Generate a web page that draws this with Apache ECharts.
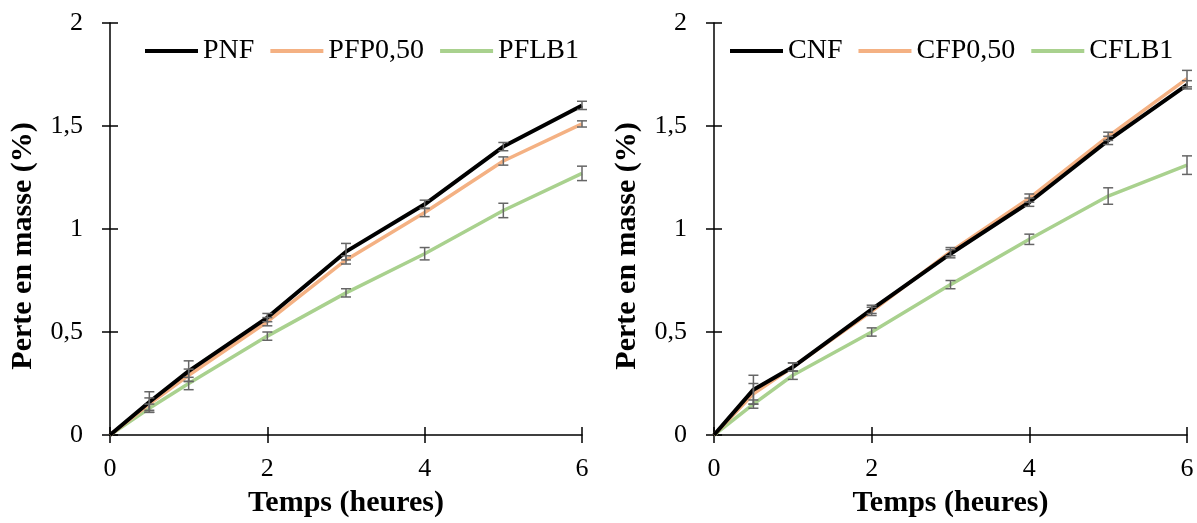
<!DOCTYPE html>
<html><head><meta charset="utf-8">
<script src="https://cdn.jsdelivr.net/npm/echarts@6/dist/echarts.min.js"></script>
<style>html,body{margin:0;padding:0;background:#fff}#c{width:1197px;height:523px}</style>
</head><body><div id="c"></div>
<script>
const times = [0, 0.5, 1, 2, 3, 4, 5, 6];
const xTicks = [0, 2, 4, 6];
const yTicks = ['0', '0,5', '1', '1,5', '2'];

const leftNames = ['PNF', 'PFP0,50', 'PFLB1'];
const pnf   = [0, 0.16, 0.31, 0.57, 0.89, 1.12, 1.40, 1.60];
const pfp   = [0, 0.15, 0.29, 0.55, 0.85, 1.08, 1.33, 1.51];
const pflb  = [0, 0.13, 0.25, 0.48, 0.69, 0.88, 1.09, 1.27];
const pnfErr  = [0, 0.05, 0.05, 0.02, 0.04, 0.02, 0.02, 0.02];
const pfpErr  = [0, 0.03, 0.03, 0.02, 0.02, 0.02, 0.02, 0.015];
const pflbErr = [0, 0.02, 0.03, 0.02, 0.02, 0.03, 0.035, 0.035];

const rightNames = ['CNF', 'CFP0,50', 'CFLB1'];
const cnf   = [0, 0.22, 0.33, 0.61, 0.88, 1.13, 1.43, 1.70];
const cfp   = [0, 0.20, 0.33, 0.60, 0.89, 1.15, 1.45, 1.73];
const cflb  = [0, 0.15, 0.29, 0.50, 0.73, 0.95, 1.16, 1.31];
const cnfErr  = [0, 0.07, 0.02, 0.02, 0.02, 0.02, 0.02, 0.02];
const cfpErr  = [0, 0.05, 0.02, 0.02, 0.02, 0.02, 0.02, 0.04];
const cflbErr = [0, 0.02, 0.02, 0.02, 0.02, 0.025, 0.04, 0.045];

const colors = ['#000000', '#F4B183', '#A9D18E'];
const widths = [4, 3.5, 3.5];
const FONT = 'Liberation Serif';

function errRender(params, api) {
  const x = api.value(0), lo = api.value(1), hi = api.value(2);
  const p1 = api.coord([x, hi]), p2 = api.coord([x, lo]);
  const w = 5;
  const style = { stroke: '#666666', lineWidth: 1.5 };
  return { type: 'group', children: [
    { type: 'line', shape: { x1: p1[0], y1: p1[1], x2: p2[0], y2: p2[1] }, style },
    { type: 'line', shape: { x1: p1[0] - w, y1: p1[1], x2: p1[0] + w, y2: p1[1] }, style },
    { type: 'line', shape: { x1: p2[0] - w, y1: p2[1], x2: p2[0] + w, y2: p2[1] }, style }
  ]};
}

function xAx(gi, main) {
  return {
    type: 'value', gridIndex: gi, min: 0, max: 6, interval: 2, position: 'bottom',
    name: main ? 'Temps (heures)' : '', nameLocation: 'middle', nameGap: 53,
    nameTextStyle: { fontFamily: FONT, fontSize: 30, fontWeight: 'bold', color: '#000' },
    axisLine: { show: main, onZero: false, lineStyle: { color: '#000', width: 1.5 } },
    axisTick: { show: true, inside: !main, length: 8, lineStyle: { color: '#000', width: 1.5 } },
    axisLabel: { show: main, margin: 21, fontFamily: FONT, fontSize: 26, color: '#000',
      formatter: v => xTicks.includes(v) ? String(v) : '' },
    splitLine: { show: false }
  };
}
function yAx(gi, main) {
  return {
    type: 'value', gridIndex: gi, min: 0, max: 2, interval: 0.5, position: 'left',
    name: main ? 'Perte en masse (%)' : '', nameLocation: 'middle', nameGap: 72,
    nameTextStyle: { fontFamily: FONT, fontSize: 30, fontWeight: 'bold', color: '#000',
      padding: [0, 34, 0, 0] },
    axisLine: { show: main, onZero: false, lineStyle: { color: '#000', width: 1.5 } },
    axisTick: { show: true, inside: !main, length: 8, lineStyle: { color: '#000', width: 1.5 } },
    axisLabel: { show: main, margin: 27, fontFamily: FONT, fontSize: 26, color: '#000',
      formatter: v => yTicks[Math.round(v * 2)] },
    splitLine: { show: false }
  };
}

function makeSeries(names, vals, errs, xi, yi) {
  const out = [];
  names.forEach((n, i) => {
    out.push({
      name: n, type: 'line', xAxisIndex: xi, yAxisIndex: yi,
      data: times.map((t, k) => [t, vals[i][k]]),
      showSymbol: false, symbol: 'none', smooth: false,
      lineStyle: { color: colors[i], width: widths[i] }, itemStyle: { color: colors[i] },
      z: 3 - i + 2
    });
  });
  names.forEach((n, i) => {
    out.push({
      type: 'custom', xAxisIndex: xi, yAxisIndex: yi, z: 10,
      renderItem: errRender,
      data: times.map((t, k) => [t, vals[i][k] - errs[i][k], vals[i][k] + errs[i][k]])
                 .filter((d, k) => errs[i][k] > 0)
    });
  });
  return out;
}

function legend(names, left) {
  return {
    data: names.map(n => ({ name: n, icon: 'rect' })),
    left: left, top: 32, itemWidth: 53, itemHeight: 4, itemGap: 16,
    textStyle: { fontFamily: FONT, fontSize: 28, color: '#000' }
  };
}

const chart = echarts.init(document.getElementById('c'), null, { renderer: 'canvas' });
chart.setOption({
  backgroundColor: '#fff',
  animation: false,
  grid: [
    { left: 110, right: 615, top: 23, bottom: 86 },
    { left: 714, right: 10, top: 23, bottom: 86 }
  ],
  legend: [legend(leftNames, 140), legend(rightNames, 725)],
  xAxis: [xAx(0, true), xAx(0, false), xAx(1, true), xAx(1, false)],
  yAxis: [yAx(0, true), yAx(0, false), yAx(1, true), yAx(1, false)],
  series: [
    ...makeSeries(leftNames, [pnf, pfp, pflb], [pnfErr, pfpErr, pflbErr], 0, 0),
    ...makeSeries(rightNames, [cnf, cfp, cflb], [cnfErr, cfpErr, cflbErr], 2, 2)
  ]
});
</script>
</body></html>
